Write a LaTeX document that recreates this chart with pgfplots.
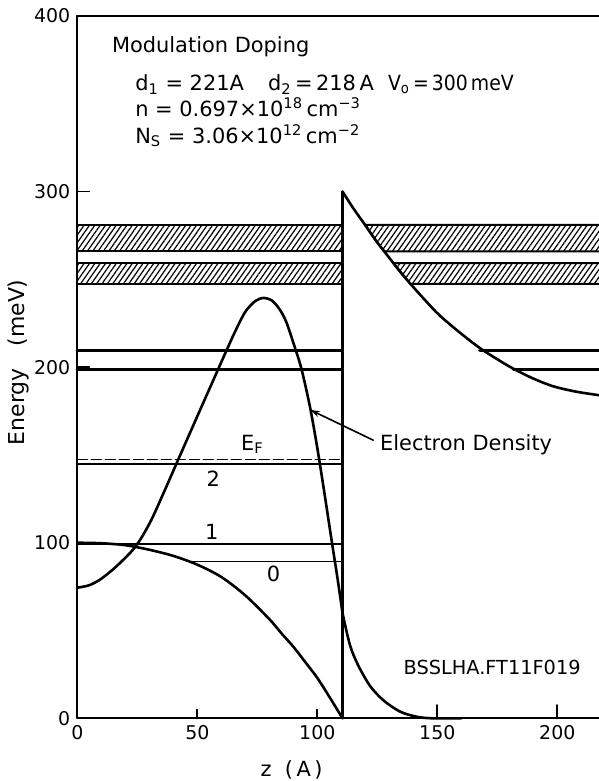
\documentclass[border=0pt]{standalone}
\usepackage{fontspec}
\setmainfont{DejaVu Sans}
\usepackage{graphicx}
\usepackage{pgfplots}
\usepackage{pgfplotstable}
\pgfplotsset{compat=1.18}
\usetikzlibrary{patterns.meta,arrows.meta}

% conduction band edge inside the well (z < 110.5 A)
\pgfplotstableread{
z V
0 100
10 99.7
20 98.6
30 96.0
40 92.5
50 87.5
60 80.5
70 70.0
80 56.5
85 48.5
90 40.8
95 32.0
100 23.0
105 12.3
110.5 0
}\wellpot

% barrier potential (z > 110.5 A)
\pgfplotstableread{
z V
110.5 300
115 290.5
119.9 281
125 271
128.2 265.4
133 257
138.6 247.8
145 238
151.1 229.3
160 219
167.8 210.8
175 204.5
181.7 199.1
190 193.5
198.3 189.1
208 186
220 183.5
}\barrier

% electron density, well side
\pgfplotstableread{
z n
0 74.4
5 75.8
10 79.5
16.5 86.8
24.2 97.7
30.3 111.5
36 128.5
42.1 147.5
50 172
58.75 199
62.2 209.6
66 221
70 231.5
74 237.5
77.5 239.4
81 238
84 233.5
87 226
90.7 211
93.5 198.5
97 177
100 154
103 128
106 101
108.5 79
110.5 60
}\densL

% electron density, barrier side
\pgfplotstableread{
z n
110.5 60
113.6 41.7
117.1 30
122 18.4
127.5 10.3
134.5 3.8
141.4 0.9
148 0
160 0
}\densR

\begin{document}
\begin{tikzpicture}
% page cut at z = 217.4, so the right frame edge lies beyond the page
\path[use as bounding box] (-38.65bp,-31.35bp) rectangle (260.85bp,359.15bp);
\begin{axis}[
  scale only axis,
  width=264bp, height=351.15bp,
  xmin=0, xmax=220, ymin=0, ymax=400,
  axis line style={line width=1bp},
  tick align=inside, xtick pos=bottom, ytick pos=left,
  major tick length=6bp,
  xtick style={draw=none},
  ytick style={black, line width=0.9bp},
  xtick={0,50,100,150,200},
  ytick={0,100,200,300,400},
  /pgf/number format/assume math mode=true,
  ticklabel style={font=\fontsize{9.5}{11}\selectfont},
  font=\fontsize{10.5}{12}\selectfont,
  xlabel={z\ \ (\,A\,)},
  ylabel={Energy\quad(meV)},
  xlabel style={at={(axis description cs:0.406,-0.0736)},anchor=center},
  ylabel style={at={(axis description cs:-0.111,0.507)},anchor=center,font=\fontsize{11}{13}\selectfont},
  line join=round, line cap=round,
  clip=false,
]
% tick marks on the z axis
\addplot[line width=1bp] coordinates {(50,0) (50,5)};
\addplot[line width=1bp] coordinates {(100,0) (100,5)};
\addplot[line width=1bp] coordinates {(150,0) (150,7.5)};
\addplot[line width=1bp] coordinates {(200,0) (200,7.5)};

% hatched continuum bands
\addplot[draw=black, line width=1bp, pattern={Lines[angle=55,distance=2.2pt,line width=0.6pt]}]
  coordinates {(0,266) (110.5,266) (110.5,281) (0,281)} -- cycle;
\addplot[draw=black, line width=1bp, pattern={Lines[angle=55,distance=2.2pt,line width=0.6pt]}]
  coordinates {(0,247.4) (110.5,247.4) (110.5,259.3) (0,259.3)} -- cycle;
\addplot[draw=black, line width=1bp, pattern={Lines[angle=55,distance=2.2pt,line width=0.6pt]}]
  coordinates {(119.9,281) (220,281) (220,266) (127.9,266) (123.6,273.5)} -- cycle;
\addplot[draw=black, line width=1bp, pattern={Lines[angle=55,distance=2.2pt,line width=0.6pt]}]
  coordinates {(131.7,259.3) (220,259.3) (220,247.4) (138.8,247.4) (135,253.3)} -- cycle;

% upper bound states
\addplot[line width=1.6bp] coordinates {(0,209.6) (110.5,209.6)};
\addplot[line width=1.6bp] coordinates {(0,198.5) (110.5,198.5)};
\addplot[line width=1.6bp] coordinates {(167.7,209.6) (220,209.6)};
\addplot[line width=1.6bp] coordinates {(181.7,198.5) (220,198.5)};

% Fermi level and subbands 2, 1, 0
\addplot[line width=0.8bp, dash pattern=on 5bp off 2bp] coordinates {(0,147.5) (110.5,147.5)};
\addplot[line width=0.8bp] coordinates {(0,144.7) (110.5,144.7)};
\addplot[line width=0.8bp] coordinates {(0,99.4) (110.5,99.4)};
\addplot[line width=0.8bp] coordinates {(46.4,89.3) (110.5,89.3)};

% potential profile
\addplot[line width=1.3bp, smooth] table[x=z,y=V] {\wellpot};
\addplot[line width=1.1bp] coordinates {(110.5,0) (110.5,300)};
\addplot[line width=1.3bp, smooth] table[x=z,y=V] {\barrier};

% electron density
\addplot[line width=1.3bp, smooth] table[x=z,y=n] {\densL};
\addplot[line width=1.3bp, smooth] table[x=z,y=n] {\densR};

% annotations
\node[anchor=west, inner sep=0pt] at (axis cs:14.3,382.6) {Modulation Doping};
\node[anchor=west, inner sep=0pt] at (axis cs:24,361) {d\textsubscript{1} = 221A};
\node[anchor=west, inner sep=0pt] at (axis cs:79.3,361) {d\textsubscript{2}\,=\,218\,A};
\node[anchor=west, inner sep=0pt] at (axis cs:129.3,361) {\scalebox{0.9}[1]{V\textsubscript{o}\,=\,300\,meV}};
\node[anchor=west, inner sep=0pt] at (axis cs:24,347.8) {n = 0.697×10\textsuperscript{18}\,cm\textsuperscript{−3}};
\node[anchor=west, inner sep=0pt] at (axis cs:24,331.7) {N\textsubscript{S} = 3.06×10\textsuperscript{12}\,cm\textsuperscript{−2}};

\node at (axis cs:73,156) {E\textsubscript{F}};
\node at (axis cs:56.7,136.4) {2};
\node at (axis cs:56,106) {1};
\node at (axis cs:81.8,82.5) {0};

\node[anchor=west, inner sep=0pt] at (axis cs:126,156) {Electron Density};
\draw[line width=0.8bp, -{Stealth[length=5bp,width=3bp]}] (axis cs:123.3,158.4) -- (axis cs:97,175.7);

\node[anchor=west, inner sep=0pt, font=\fontsize{9.7}{11}\selectfont] at (axis cs:135.8,29.1) {BSSLHA.FT11F019};
\end{axis}
\end{tikzpicture}
\end{document}
